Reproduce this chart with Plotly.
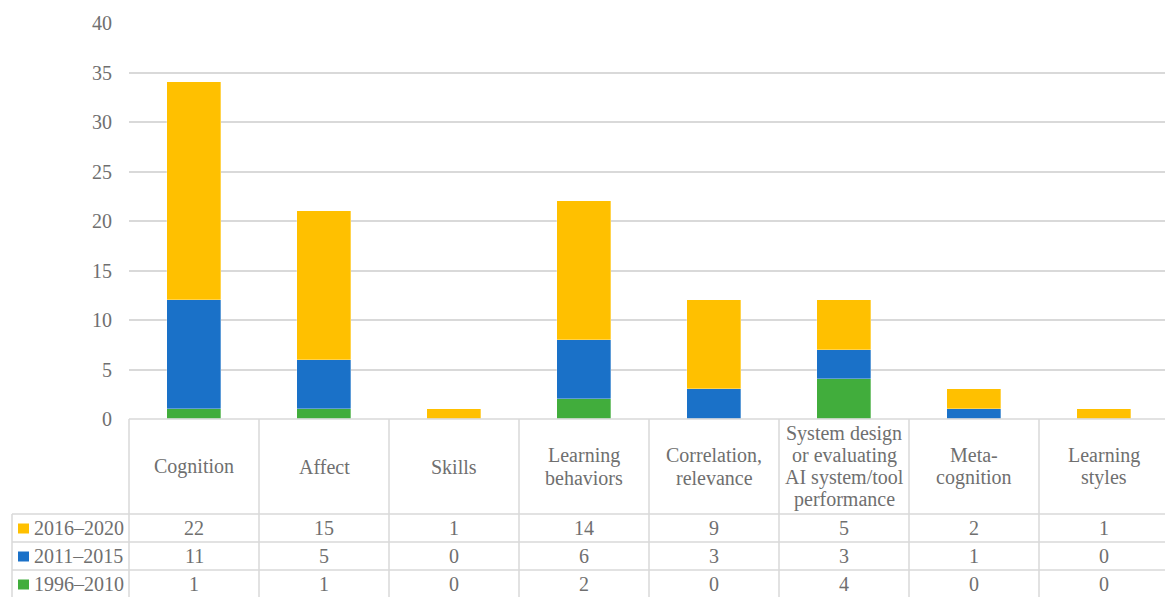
import plotly.graph_objects as go

categories = ["Cognition", "Affect", "Skills", "Learning<br>behaviors", "Correlation,<br>relevance",
              "System design<br>or evaluating<br>AI system/tool<br>performance", "Meta-<br>cognition",
              "Learning<br>styles"]
series_names = ["1996–2010", "2011–2015", "2016–2020"]
v_1996_2010 = [1, 1, 0, 2, 0, 4, 0, 0]
v_2011_2015 = [11, 5, 0, 6, 3, 3, 1, 0]
v_2016_2020 = [22, 15, 1, 14, 9, 5, 2, 1]
colors = ["#41AD3C", "#1A71C8", "#FFC000"]
y_ticks = [0, 5, 10, 15, 20, 25, 30, 35, 40]

W, H = 1165, 597
L, R, T, B = 129, 0, 23, 178
PW, PH = W - L - R, H - T - B
CELL = 130.0
FONT = "Times New Roman"
TXT = "#6F6F6F"
GRID = "#D9D9D9"
FS = 20
LINE_GAP = 22.3


def px(x):
    return (x - L) / PW


def py(y):
    return (H - B - y) / PH


xs = list(range(len(categories)))
series_vals = [v_1996_2010, v_2011_2015, v_2016_2020]

fig = go.Figure()
for name, vals, col in zip(series_names, series_vals, colors):
    fig.add_trace(go.Bar(x=xs, y=vals, name=name,
                         marker=dict(color=col, line=dict(color="rgba(255,255,255,0.5)", width=0.6)),
                         width=0.41, showlegend=False))

shapes = []
annotations = []
line = dict(color=GRID, width=1.5)
row_y = [514, 542, 570, 598]
# table horizontal rules
shapes.append(dict(type="line", xref="paper", yref="paper", x0=px(L), x1=px(W), y0=py(419), y1=py(419), line=line))
for yy in row_y:
    shapes.append(dict(type="line", xref="paper", yref="paper", x0=px(12), x1=px(W), y0=py(yy), y1=py(yy), line=line))
# table vertical rules
shapes.append(dict(type="line", xref="paper", yref="paper", x0=px(12), x1=px(12), y0=py(514), y1=py(598), line=line))
for k in range(len(categories) + 1):
    xx = L + k * CELL
    if xx <= W:
        shapes.append(dict(type="line", xref="paper", yref="paper", x0=px(xx), x1=px(xx), y0=py(419), y1=py(598), line=line))

# category header cells, one annotation per text line for tight leading
for i, c in enumerate(categories):
    cx = L + CELL * (i + 0.5)
    parts = c.split("<br>")
    n = len(parts)
    for j, part in enumerate(parts):
        cy = 466.5 + (j - (n - 1) / 2) * LINE_GAP
        annotations.append(dict(x=px(cx), y=py(cy), xref="paper", yref="paper", text=part, showarrow=False,
                                xanchor="center", yanchor="middle",
                                font=dict(family=FONT, size=FS, color=TXT)))

# data rows: newest period first
rows = list(zip(series_names, series_vals, colors))[::-1]
row_centers = [528, 556, 584]
for r, (name, vals, col) in enumerate(rows):
    cy = row_centers[r]
    shapes.append(dict(type="rect", xref="paper", yref="paper", x0=px(18), x1=px(29), y0=py(cy - 4.5), y1=py(cy + 5.5),
                       fillcolor=col, line=dict(width=0)))
    annotations.append(dict(x=px(32), y=py(cy), xref="paper", yref="paper", text=name, showarrow=False,
                            xanchor="left", yanchor="middle", font=dict(family=FONT, size=FS, color=TXT)))
    for i, v in enumerate(vals):
        cx = L + CELL * (i + 0.5)
        annotations.append(dict(x=px(cx), y=py(cy), xref="paper", yref="paper", text=str(v), showarrow=False,
                                xanchor="center", yanchor="middle", font=dict(family=FONT, size=FS, color=TXT)))

fig.update_layout(
    barmode="stack",
    width=W, height=H,
    margin=dict(l=L, r=R, t=T, b=B, pad=0),
    plot_bgcolor="white", paper_bgcolor="white",
    font=dict(family=FONT),
    bargap=0,
    xaxis=dict(range=[-0.5, -0.5 + PW / CELL], showticklabels=False, showgrid=False, zeroline=False, fixedrange=True),
    yaxis=dict(range=[0, 40], tickvals=y_ticks, showgrid=True, gridcolor=GRID, gridwidth=1.5, zeroline=False,
               tickfont=dict(family=FONT, size=FS, color=TXT), ticklabelstandoff=16, ticks=""),
    shapes=shapes,
    annotations=annotations,
)

fig.write_html("out.html")
